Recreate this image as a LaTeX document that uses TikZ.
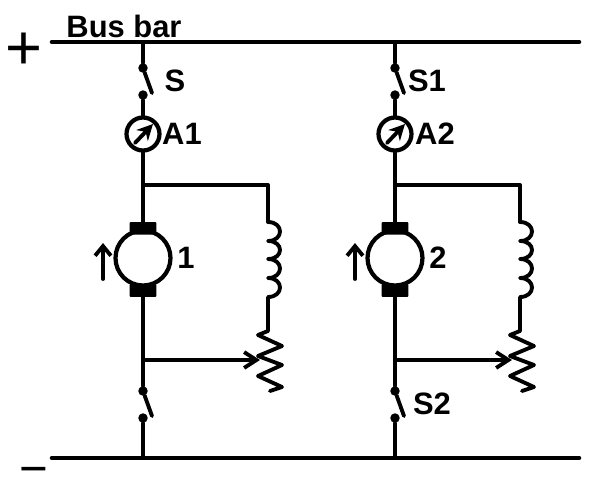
\documentclass[tikz,border=0pt]{standalone}
\usepackage{fontspec}
\setmainfont{Liberation Sans}
\usetikzlibrary{arrows.meta}
\tikzset{
  wire/.style={line width=2.2pt,line cap=round},
  busbar/.style={line width=2.6pt,line cap=round},
  lbl/.style={inner sep=0pt,font=\fontsize{17.6}{20}\selectfont\bfseries},
  sign/.style={inner sep=0pt,font=\fontsize{36}{38}\selectfont},
  contact/.style={circle,fill,inner sep=0pt,minimum size=5.4pt},
  meter/.style={circle,draw,line width=2.4pt,inner sep=0pt,minimum size=0.66cm},
  armature/.style={circle,draw,line width=2.4pt,inner sep=0pt,minimum size=1.1cm},
  brush/.style={fill,inner sep=0pt,minimum width=0.54cm,minimum height=0.25cm,rounded corners=0.5pt},
  barb/.style={-{Straight Barb[length=5.5pt,width=9pt,line width=2.2pt]}}
}
\begin{document}
\begin{tikzpicture}[x=0.02cm,y=-0.02cm]
    \useasboundingbox (0,0) rectangle (600,485);

    % Bus bars
    \coordinate (top west) at (52,42);
    \coordinate (top east) at (579,42);
    \coordinate (bot west) at (52,458);
    \coordinate (bot east) at (579,458);
    \draw[busbar] (top west) -- (top east);
    \draw[busbar] (bot west) -- (bot east);
    \node[lbl] (title) at (124,26) {Bus bar};
    \node[sign] (plus) at (24,51) {+};
    \node[sign,anchor=base,font=\fontsize{28}{30}\selectfont] (minus) at (34,485) {−};

    % Two identical branches: x / switch / ammeter / number / lower switch
    \foreach \x/\n/\sw/\amp/\num/\low/\dxs/\dxa in {
        143/a/S/A1/1/{}/32/39,
        395/b/S1/A2/2/S2/32/40
    }{
        \coordinate (top\n) at (\x,42);
        \coordinate (bot\n) at (\x,458);

        % Upper switch and ammeter
        \node[contact] (sw1\n) at (\x,68) {};
        \node[contact] (sw2\n) at (\x,95) {};
        \coordinate (blade\n) at (\x+9,93);
        \draw[wire] (top\n) -- (sw1\n);
        \draw[wire] (sw1\n) -- (blade\n);
        \node[lbl] (swlbl\n) at (\x+\dxs,81) {\sw};
        \node[meter] (amp\n) at (\x,134) {};
        \draw[wire] (sw2\n) -- (amp\n);
        \draw[wire,-{Stealth[length=9pt,width=9pt]}] (\x-8,143) -- (\x+10,124);
        \node[lbl] (amplbl\n) at (\x+\dxa,134) {\amp};

        % Motor
        \coordinate (join\n) at (\x,185);
        \node[armature] (mot\n) at (\x,258) {};
        \node[brush,anchor=south] (brtop\n) at (\x,235) {};
        \node[brush,anchor=north] (brbot\n) at (\x,284) {};
        \draw[wire] (amp\n) -- (join\n) -- (brtop\n);
        \draw[wire,barb] (\x-40,279) -- (\x-40,243);
        \node[lbl] (motlbl\n) at (\x+43,258) {\num};

        % Field coil
        \coordinate (corner\n) at (\x+125,185);
        \coordinate (coil\n) at (\x+125,222);
        \draw[wire,line join=round] (join\n) -- (corner\n) -- (coil\n);
        \draw[wire,line join=round] (coil\n)
            .. controls +(16,0) and +(16,0) .. ++(0,19)
            .. controls +(16,0) and +(16,0) .. ++(0,18)
            .. controls +(16,0) and +(16,0) .. ++(0,19)
            .. controls +(16,0) and +(16,0) .. ++(0,19) -- ++(0,34)
            -- ++(-10,4) -- ++(24,11) -- ++(-24,10) -- ++(24,9)
            -- ++(-24,11) -- ++(24,11) -- ++(-12,4);

        % Lower part with the wiper
        \coordinate (tap\n) at (\x,360);
        \coordinate (wiper\n) at (\x+117,360);
        \node[contact] (sw3\n) at (\x,391) {};
        \node[contact] (sw4\n) at (\x,418) {};
        \coordinate (bladelow\n) at (\x+9,416);
        \draw[wire] (brbot\n) -- (tap\n) -- (sw3\n);
        \draw[wire,-{Straight Barb[length=7pt,width=9pt,line width=2.2pt]}] (tap\n) -- (wiper\n);
        \draw[wire] (sw3\n) -- (bladelow\n);
        \draw[wire] (sw4\n) -- (bot\n);
        \node[lbl] (lowlbl\n) at (\x+37,404) {\low};
    }

\end{tikzpicture}
\end{document}
